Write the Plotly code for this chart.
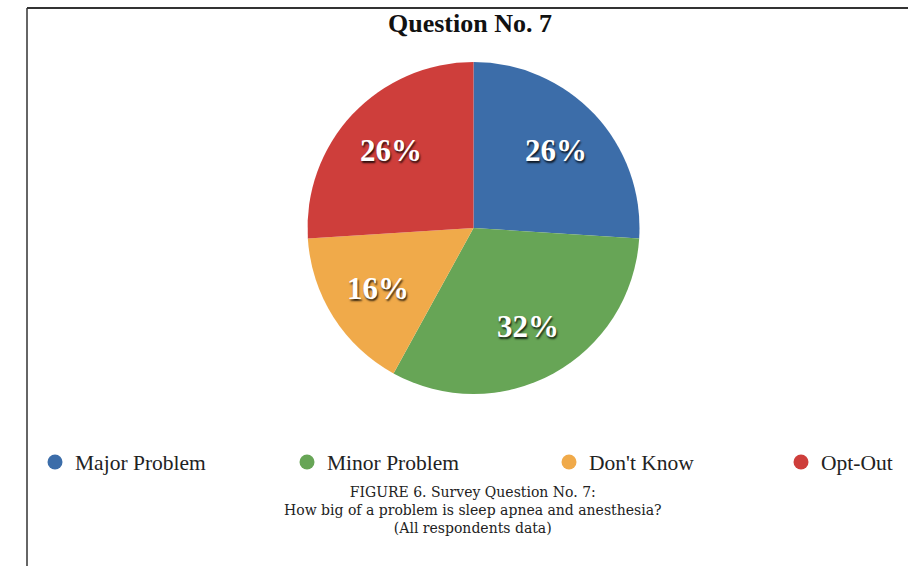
import math
import plotly.graph_objects as go

# Survey responses for question 7
categories = ["Major Problem", "Minor Problem", "Don't Know", "Opt-Out"]
shares = [26, 32, 16, 26]
colors = ["#3C6DA9", "#67A556", "#F0AA4A", "#CE3E3B"]

title_text = "Question No. 7"
caption_lines = [
    "FIGURE 6. Survey Question No. 7:",
    "How big of a problem is sleep apnea and anesthesia?",
    "(All respondents data)",
]

W, H = 908, 566
SERIF = "Liberation Serif"
WIDE_SERIF = "DejaVu Serif"


def px_x(x):
    return x / W


def px_y(y):
    return 1 - y / H


# Pie placement (pixels): centre and radius
CX, CY, R = 473.5, 228.0, 166.0

fig = go.Figure()

fig.add_trace(go.Pie(
    labels=categories,
    values=shares,
    sort=False,
    direction="clockwise",
    rotation=0,
    marker=dict(colors=colors, line=dict(width=0)),
    textinfo="none",
    hoverinfo="label+percent",
    showlegend=False,
    domain=dict(x=[px_x(CX - R), px_x(CX + R)], y=[px_y(CY + R), px_y(CY - R)]),
))

# Percentage labels placed along each slice's mid-angle
annotations = []
total = sum(shares)
cum = 0.0
for v in shares:
    mid = (cum + v / 2) / total * 2 * math.pi  # clockwise from 12 o'clock
    cum += v
    lx = CX + 0.68 * R * math.sin(mid)
    ly = CY - 0.68 * R * math.cos(mid)
    annotations.append(dict(
        text=f"<b>{v}%</b>", x=px_x(lx), y=px_y(ly),
        xref="paper", yref="paper", showarrow=False,
        xanchor="center", yanchor="middle",
        font=dict(family=SERIF, size=31, color="white",
                  shadow="1px 2px 2px rgba(0,0,0,0.8)"),
    ))

# Legend entries drawn as round markers, each in its own legend box
legend_left = [35, 287, 549, 781]
for i, (name, col) in enumerate(zip(categories, colors)):
    lg = "legend" if i == 0 else f"legend{i + 1}"
    fig.add_trace(go.Scatter(
        x=[None], y=[None], mode="markers", name=name,
        marker=dict(color=col, size=15, symbol="circle"),
        legend=lg, showlegend=True,
    ))

layout_legends = {}
for i, lx in enumerate(legend_left):
    key = "legend" if i == 0 else f"legend{i + 1}"
    layout_legends[key] = dict(
        x=px_x(lx), y=px_y(462),
        orientation="h", yanchor="middle", xanchor="left",
        bgcolor="rgba(0,0,0,0)", borderwidth=0,
        font=dict(family=SERIF, size=21.5, color="#222"),
    )

annotations.append(dict(
    text=f"<b>{title_text}</b>", x=px_x(470), y=px_y(24),
    xref="paper", yref="paper", showarrow=False,
    xanchor="center", yanchor="middle",
    font=dict(family=SERIF, size=26, color="#111"),
))
annotations.append(dict(
    text="<br>".join(caption_lines), x=px_x(473), y=px_y(510),
    xref="paper", yref="paper", showarrow=False,
    xanchor="center", yanchor="middle", align="center",
    font=dict(family=WIDE_SERIF, size=14, color="#222"),
))

# Frame lines along the top and left edges
shapes = [
    dict(type="line", xref="paper", yref="paper",
         x0=px_x(27), x1=1, y0=px_y(8), y1=px_y(8),
         line=dict(color="#333", width=2)),
    dict(type="line", xref="paper", yref="paper",
         x0=px_x(27), x1=px_x(27), y0=0, y1=px_y(8),
         line=dict(color="#333", width=1.5)),
]

fig.update_layout(
    width=W, height=H, autosize=False,
    margin=dict(l=0, r=0, t=0, b=0),
    paper_bgcolor="white", plot_bgcolor="white",
    font=dict(family=SERIF),
    xaxis=dict(visible=False), yaxis=dict(visible=False),
    annotations=annotations, shapes=shapes,
    **layout_legends,
)

fig.write_html("out.html")
